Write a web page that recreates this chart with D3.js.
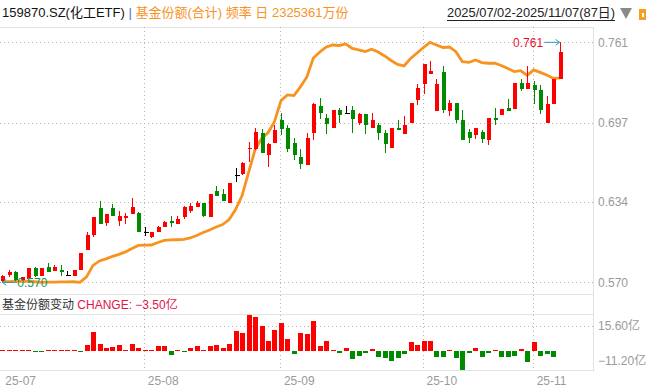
<!DOCTYPE html>
<html>
<head>
<meta charset="utf-8">
<script src="https://cdn.jsdelivr.net/npm/d3@7"></script>
<style>
body { margin: 0; background: #fff; }
svg { display: block; font-family: "Liberation Sans", Arial, "Noto Sans CJK SC", sans-serif; }
</style>
</head>
<body>
<svg id="chart" width="646" height="390"></svg>
<script>
var svg = d3.select('#chart');

// trading days 2025/07/02 - 2025/11/07
var dates = [
  "07-02","07-03","07-04","07-07","07-08","07-09","07-10","07-11","07-14","07-15","07-16","07-17","07-18",
  "07-21","07-22","07-23","07-24","07-25","07-28","07-29","07-30","07-31",
  "08-01","08-04","08-05","08-06","08-07","08-08","08-11","08-12","08-13","08-14","08-15","08-18","08-19",
  "08-20","08-21","08-22","08-25","08-26","08-27","08-28","08-29",
  "09-01","09-02","09-03","09-04","09-05","09-08","09-09","09-10","09-11","09-12","09-15","09-16","09-17",
  "09-18","09-19","09-22","09-23","09-24","09-25","09-26","09-29","09-30",
  "10-09","10-10","10-13","10-14","10-15","10-16","10-17","10-20","10-21","10-22","10-23","10-24","10-27",
  "10-28","10-29","10-30","10-31",
  "11-03","11-04","11-05","11-06","11-07"
];

var opens = [0.571,0.576,0.578,0.572,0.573,0.581,0.575,0.582,0.579,0.580,0.576,0.575,0.580,
  0.596,0.608,0.629,0.617,0.629,0.619,0.621,0.624,0.625,0.610,0.606,0.610,0.614,0.619,0.616,0.622,0.627,
  0.630,0.633,0.622,0.643,0.640,0.633,0.655,0.656,0.676,0.676,0.689,0.671,0.681,0.699,0.693,0.681,0.670,
  0.663,0.689,0.710,0.701,0.693,0.707,0.705,0.707,0.697,0.704,0.693,0.695,0.689,0.677,0.693,0.688,0.697,
  0.715,0.728,0.736,0.706,0.737,0.706,0.713,0.699,0.690,0.687,0.690,0.683,0.701,0.703,0.709,0.708,0.729,
  0.724,0.727,0.723,0.697,0.712,0.732];
var highs = [0.576,0.580,0.579,0.574,0.581,0.582,0.581,0.585,0.584,0.584,0.579,0.580,0.593,
  0.610,0.622,0.635,0.624,0.632,0.627,0.625,0.637,0.626,0.614,0.610,0.615,0.619,0.623,0.623,0.631,0.633,
  0.635,0.633,0.640,0.647,0.644,0.649,0.661,0.666,0.682,0.693,0.692,0.681,0.695,0.705,0.695,0.685,0.676,
  0.689,0.713,0.717,0.704,0.707,0.709,0.710,0.710,0.705,0.704,0.705,0.697,0.691,0.693,0.699,0.702,0.713,
  0.728,0.744,0.746,0.732,0.742,0.715,0.713,0.707,0.692,0.693,0.691,0.701,0.709,0.708,0.716,0.729,0.732,
  0.742,0.730,0.727,0.718,0.732,0.761];
var lows = [0.570,0.574,0.571,0.571,0.572,0.574,0.575,0.578,0.579,0.575,0.575,0.575,0.580,
  0.596,0.606,0.616,0.615,0.623,0.615,0.616,0.624,0.610,0.607,0.605,0.610,0.614,0.614,0.616,0.620,0.625,
  0.630,0.622,0.622,0.639,0.635,0.633,0.650,0.655,0.666,0.675,0.673,0.662,0.681,0.687,0.674,0.667,0.660,
  0.663,0.683,0.700,0.688,0.693,0.697,0.705,0.689,0.695,0.688,0.693,0.683,0.673,0.677,0.691,0.688,0.697,
  0.711,0.720,0.736,0.706,0.705,0.702,0.697,0.683,0.681,0.684,0.681,0.679,0.695,0.703,0.706,0.708,0.722,
  0.724,0.712,0.704,0.697,0.712,0.732];
var closes = [0.575,0.578,0.572,0.574,0.581,0.575,0.581,0.578,0.582,0.578,0.576,0.580,0.593,
  0.608,0.622,0.616,0.624,0.623,0.623,0.623,0.630,0.610,0.610,0.610,0.614,0.618,0.617,0.620,0.630,0.631,
  0.633,0.623,0.640,0.639,0.635,0.649,0.655,0.665,0.677,0.690,0.673,0.680,0.691,0.692,0.676,0.671,0.664,
  0.685,0.712,0.705,0.696,0.707,0.703,0.705,0.700,0.704,0.695,0.699,0.689,0.680,0.693,0.691,0.695,0.713,
  0.725,0.744,0.738,0.728,0.707,0.713,0.699,0.683,0.685,0.693,0.684,0.701,0.699,0.708,0.706,0.729,0.724,
  0.729,0.723,0.707,0.712,0.732,0.753];

// fund shares (万份)
var shares = [455000,456000,457000,458000,459000,454000,449000,450000,451000,452000,453000,454000,449000,
  499000,604400,645700,664000,686900,705300,728200,760300,787800,789800,791800,815300,833600,838200,
  840000,842800,856500,879400,906900,929900,957400,980300,1026100,1117800,1246100,1457000,1667800,
  1768600,1823600,1924500,2117000,2172000,2165600,2245300,2337000,2511200,2566200,2612000,2630300,
  2625800,2639500,2598300,2584500,2570000,2590900,2566200,2529500,2488200,2451600,2437900,2506600,
  2557000,2607400,2655100,2630300,2607400,2612000,2568900,2477200,2470000,2492800,2468000,2462600,
  2463500,2442400,2414900,2385600,2394700,2350700,2401200,2378300,2355300,2325361,2325361];

// daily change of fund shares (亿份)
var changes = [0.1,0.1,0.1,0.1,0.1,-0.5,-0.5,0.1,0.1,0.1,0.1,0.1,-0.5,
  3.6,11.4,4.4,1.8,2.4,3.6,0.2,4.2,1.8,0.2,0.2,3.0,3.0,-2.4,0.6,-0.4,1.8,3.0,0.6,3.0,3.6,1.8,4.2,
  12.0,10.8,21.7,20.5,15.1,6.0,12.7,16.9,7.2,-1.8,10.8,10.2,18.1,3.0,6.0,0.6,-0.9,1.8,-4.6,-2.8,-1.4,
  1.2,-3.4,-4.4,-5.8,-4.0,-1.6,5.4,3.6,6.0,6.0,-3.4,-3.4,0.6,-4.0,-11.2,-0.9,1.8,-3.4,-0.9,0.3,-3.4,
  -3.4,-3.0,1.2,-6.4,5.4,-3.0,-2.0,-3.5,null];

var priceTicks = [0.570, 0.634, 0.697, 0.761];
var changeTicks = [15.6, -11.2];
var monthTicks = ["07-02", "08-01", "09-01", "10-09", "11-03"];
var monthLabels = ["25-07", "25-08", "25-09", "25-10", "25-11"];

// layout
var mainTop = 27, mainBottom = 294, plotRight = 593;
var subTop = 314, subBottom = 370.5;
var red = '#ff0000', green = '#008a00', orange = '#f7931e', gridColor = '#b4b4b4', lineColor = '#e2e2e2';

var x = d3.scalePoint().domain(dates).range([2.3, 559.6]);
var yPrice = d3.scaleLinear().domain([d3.min(lows), d3.max(highs)]).range([282.3, 42.3]);
var yShare = d3.scaleLinear().domain(d3.extent(shares)).range([282.3, 42.3]);
var yChg = d3.scaleLinear().domain([-11.2, 15.6]).range([369.5, 325.5]);
var fmt3 = d3.format('.3f');

// frame lines
var frame = svg.append('g').attr('stroke', lineColor).attr('stroke-width', 1).attr('shape-rendering', 'crispEdges');
[mainTop, mainBottom, subTop, subBottom].forEach(function(yy) {
  frame.append('line').attr('x1', 0).attr('x2', plotRight).attr('y1', yy).attr('y2', yy);
});
frame.append('line').attr('x1', plotRight).attr('x2', plotRight).attr('y1', mainTop).attr('y2', subBottom);

// grid
var grid = svg.append('g').attr('stroke', gridColor).attr('stroke-dasharray', '1,3').attr('shape-rendering', 'crispEdges');
grid.selectAll('line.h').data(priceTicks).enter().append('line')
  .attr('x1', 0).attr('x2', plotRight)
  .attr('y1', function(d) { return Math.round(yPrice(d)) + 0.5; })
  .attr('y2', function(d) { return Math.round(yPrice(d)) + 0.5; });
grid.append('line').attr('x1', 0).attr('x2', plotRight)
  .attr('y1', Math.round(yChg(changeTicks[0])) + 0.5).attr('y2', Math.round(yChg(changeTicks[0])) + 0.5);
grid.selectAll('line.v').data(monthTicks.slice(1)).enter().append('line')
  .attr('x1', function(d) { return Math.round(x(d)) - 0.5; })
  .attr('x2', function(d) { return Math.round(x(d)) - 0.5; })
  .attr('y1', mainTop).attr('y2', subBottom);

// right axis labels
svg.append('g').selectAll('text').data(priceTicks).enter().append('text')
  .attr('x', 598).attr('y', function(d) { return yPrice(d); }).attr('dy', '0.35em')
  .attr('font-size', 12).attr('fill', '#9a9a9a')
  .text(function(d) { return fmt3(d); });

// shares line
var shareLine = d3.line()
  .x(function(d, i) { return x(dates[i]); })
  .y(function(d) { return yShare(d); });
svg.append('path').datum(shares)
  .attr('d', shareLine)
  .attr('fill', 'none').attr('stroke', orange).attr('stroke-width', 2.8);

// candles
var candles = svg.append('g');
dates.forEach(function(d, i) {
  var o = opens[i], c = closes[i];
  var col = c > o ? red : (c < o ? green : '#000');
  var cx = Math.round(x(d));
  candles.append('line')
    .attr('x1', cx + 0.5).attr('x2', cx + 0.5)
    .attr('y1', yPrice(highs[i])).attr('y2', yPrice(lows[i]))
    .attr('stroke', col).attr('stroke-width', 1).attr('shape-rendering', 'crispEdges');
  var top = yPrice(Math.max(o, c)), bot = yPrice(Math.min(o, c));
  candles.append('rect')
    .attr('x', cx - 1).attr('width', c === o ? 5 : 4)
    .attr('y', top).attr('height', Math.max(1, bot - top))
    .attr('fill', col).attr('shape-rendering', 'crispEdges');
});

// max / min markers
var iMax = d3.maxIndex(highs), iMin = d3.minIndex(lows);
var markColor = '#2e98b8';
var mx = x(dates[iMax]), my = yPrice(highs[iMax]);
svg.append('path').attr('d', 'M' + (mx - 15) + ',' + my + 'H' + mx + 'M' + (mx - 4) + ',' + (my - 3) + 'L' + mx + ',' + my + 'L' + (mx - 4) + ',' + (my + 3))
  .attr('fill', 'none').attr('stroke', markColor).attr('stroke-width', 1);
svg.append('text').attr('x', mx - 16.5).attr('y', my).attr('dy', '0.35em')
  .attr('text-anchor', 'end').attr('font-size', 12).attr('fill', '#e8102e')
  .text(fmt3(highs[iMax]));
var nx = x(dates[iMin]), ny = yPrice(lows[iMin]);
svg.append('path').attr('d', 'M' + (nx + 14) + ',' + ny + 'H' + nx + 'M' + (nx + 4) + ',' + (ny - 3) + 'L' + nx + ',' + ny + 'L' + (nx + 4) + ',' + (ny + 3))
  .attr('fill', 'none').attr('stroke', markColor).attr('stroke-width', 1);
svg.append('text').attr('x', nx + 15).attr('y', ny).attr('dy', '0.35em')
  .attr('font-size', 12).attr('fill', '#10966a')
  .text(fmt3(lows[iMin]));

// change bars
var z0 = yChg(0);
var bars = svg.append('g').attr('shape-rendering', 'crispEdges');
changes.forEach(function(v, i) {
  if (v === null) return;
  var y1 = yChg(Math.max(0, v)), y2 = yChg(Math.min(0, v));
  var h = Math.max(1, y2 - y1);
  bars.append('rect')
    .attr('x', Math.round(x(dates[i])) - 2).attr('width', 5)
    .attr('y', v >= 0 ? Math.min(y1, z0 - 1) : z0).attr('height', h)
    .attr('fill', v >= 0 ? red : green);
});

// change axis labels
svg.append('g').selectAll('text').data(changeTicks).enter().append('text')
  .attr('x', 598)
  .attr('y', function(d, i) { return i === 0 ? yChg(d) : yChg(d) - 8.5; })
  .attr('dy', '0.35em')
  .attr('font-size', 12).attr('fill', '#9a9a9a')
  .text(function(d) { return d3.format('.2f')(d) + '亿'; });

// month labels
svg.append('g').selectAll('text').data(monthTicks).enter().append('text')
  .attr('x', function(d) { return x(d) + 3; }).attr('y', 385)
  .attr('font-size', 12).attr('fill', '#9a9a9a')
  .text(function(d, i) { return monthLabels[i]; });

// header
var head = svg.append('text').attr('x', 2).attr('y', 17).attr('font-size', 13);
head.append('tspan').attr('fill', '#111').text('159870.SZ(化工ETF)');
head.append('tspan').attr('fill', '#3a78d0').text(' | ');
head.append('tspan').attr('fill', orange).text('基金份额(合计) 频率 日 ' + shares[shares.length - 1] + '万份');

svg.append('text').attr('x', 447).attr('y', 17).attr('font-size', 13).attr('fill', '#222')
  .attr('textLength', 168).attr('lengthAdjust', 'spacingAndGlyphs')
  .text('2025/07/02-2025/11/07(87日)');
svg.append('line').attr('x1', 447).attr('x2', 615).attr('y1', 20.5).attr('y2', 20.5)
  .attr('stroke', '#222').attr('stroke-width', 1);
svg.append('path').attr('d', 'M620,8L632,8L626,19Z').attr('fill', '#8a8a8a');
svg.append('rect').attr('x', 639).attr('y', 9).attr('width', 8).attr('height', 11).attr('fill', '#f5a020');
svg.append('rect').attr('x', 642).attr('y', 13).attr('width', 2).attr('height', 4).attr('fill', '#fff');

// sub panel title
var lastChange = changes.filter(function(v) { return v !== null; }).pop();
var sub = svg.append('text').attr('x', 2).attr('y', 308.5).attr('font-size', 12);
sub.append('tspan').attr('fill', '#333').text('基金份额变动');
sub.append('tspan').attr('fill', '#e0144c').text(' CHANGE: ' + d3.format('.2f')(lastChange) + '亿');
</script>
</body>
</html>
